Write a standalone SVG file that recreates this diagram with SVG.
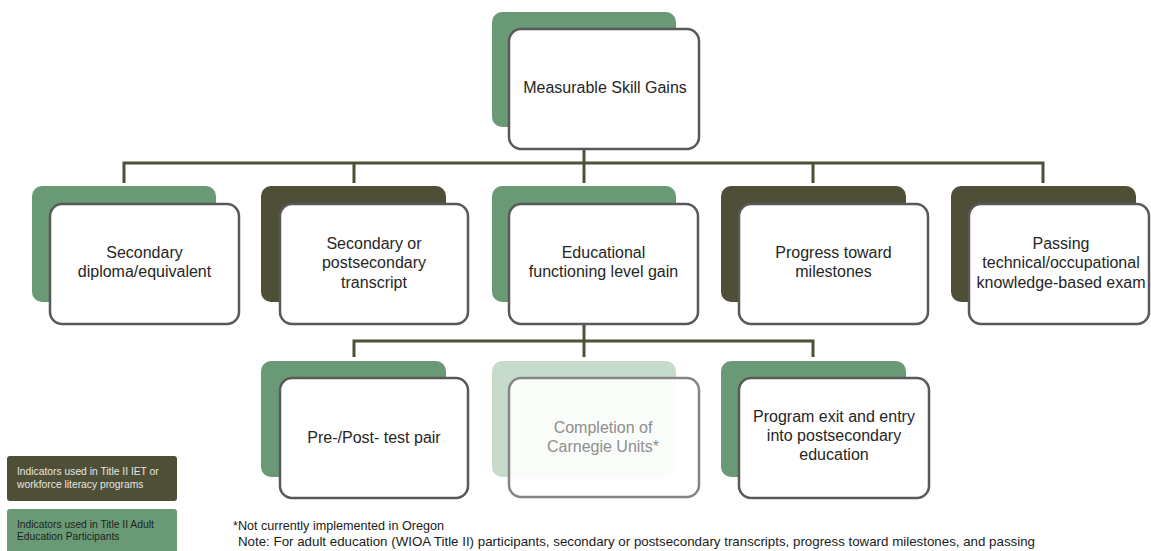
<svg xmlns="http://www.w3.org/2000/svg" width="1151" height="551" viewBox="0 0 1151 551">
<style>
.bg{fill:#fff}
.g{fill:#6a9a75}
.d{fill:#4f4f37}
.w{fill:#fff;stroke:#595959;stroke-width:2.5}
.t{font-family:"Liberation Sans",Arial,sans-serif;font-size:16px;fill:#262626;text-anchor:middle}
.c{fill:none;stroke:#4f5137;stroke-width:3}
.lg{font-family:"Liberation Sans",Arial,sans-serif;font-size:10.3px}
.ft{font-family:"Liberation Sans",Arial,sans-serif;font-size:13.5px;fill:#1a1a1a}
</style>
<rect class="bg" x="0" y="0" width="1151" height="551"/>
<g id="connectors">
<path class="c" d="M584 149 V183"/>
<path class="c" d="M124 183 V163 H1043 V183"/>
<path class="c" d="M354 163 V183 M813 163 V183"/>
<path class="c" d="M584 324 V357 M354 357 V341 H813 V357"/>
</g>
<g id="n-msg">
<rect class="g" x="492" y="12" width="184" height="115" rx="10"/>
<rect class="w" x="509" y="29" width="190" height="120" rx="12"/>
<text class="t" x="605" y="93">Measurable  Skill Gains</text>
</g>
<g id="n-diploma">
<rect class="g" x="32" y="186" width="184" height="116" rx="10"/>
<rect class="w" x="50" y="204" width="189" height="120" rx="12"/>
<text class="t" x="144.5" y="258">Secondary</text>
<text class="t" x="144.5" y="277">diploma/equivalent</text>
</g>
<g id="n-transcript">
<rect class="d" x="261" y="186" width="185" height="116" rx="10"/>
<rect class="w" x="280" y="204" width="188" height="120" rx="12"/>
<text class="t" x="374" y="249">Secondary  or</text>
<text class="t" x="374" y="268">postsecondary</text>
<text class="t" x="374" y="288">transcript</text>
</g>
<g id="n-efl">
<rect class="g" x="492" y="186" width="184" height="116" rx="10"/>
<rect class="w" x="509" y="204" width="189" height="120" rx="12"/>
<text class="t" x="603.5" y="258">Educational</text>
<text class="t" x="603.5" y="277">functioning level gain</text>
</g>
<g id="n-milestones">
<rect class="d" x="721" y="186" width="185" height="116" rx="10"/>
<rect class="w" x="739" y="204" width="189" height="120" rx="12"/>
<text class="t" x="833.5" y="258">Progress toward</text>
<text class="t" x="833.5" y="277">milestones</text>
</g>
<g id="n-exam">
<rect class="d" x="951" y="186" width="185" height="116" rx="10"/>
<rect class="w" x="969" y="204" width="180" height="120" rx="12"/>
<text class="t" x="1061" y="249">Passing</text>
<text class="t" x="1061" y="268">technical/occupational</text>
<text class="t" x="1061" y="288">knowledge-based  exam</text>
</g>
<g id="n-prepost">
<rect class="g" x="261" y="361" width="185" height="116" rx="10"/>
<rect class="w" x="280" y="378" width="188" height="120" rx="12"/>
<text class="t" x="374" y="443">Pre-/Post- test pair</text>
</g>
<g id="n-carnegie">
<rect x="492" y="361" width="184" height="116" rx="10" fill="#c7dbcc"/>
<rect x="509" y="378" width="190" height="119" rx="12" fill="#fff" fill-opacity="0.9" stroke="#858585" stroke-width="2.5"/>
<text class="t" x="603" y="433" style="fill:#8e8e8e">Completion of</text>
<text class="t" x="603" y="452" style="fill:#8e8e8e">Carnegie  Units*</text>
</g>
<g id="n-exit">
<rect class="g" x="721" y="361" width="185" height="116" rx="10"/>
<rect class="w" x="739" y="378" width="190" height="120" rx="12"/>
<text class="t" x="834" y="422">Program exit and entry</text>
<text class="t" x="834" y="441">into postsecondary</text>
<text class="t" x="834" y="460">education</text>
</g>
<g id="legend-iet">
<rect class="d" x="7" y="456" width="170" height="45" rx="3"/>
<text class="lg" x="17" y="475" fill="#e6e6e0">Indicators used in Title II IET or</text>
<text class="lg" x="17" y="488" fill="#e6e6e0">workforce literacy programs</text>
</g>
<g id="legend-adult">
<rect class="g" x="7" y="509" width="170" height="48" rx="3"/>
<text class="lg" x="17" y="528" fill="#1f1f1f">Indicators used in Title II Adult</text>
<text class="lg" x="17" y="540" fill="#1f1f1f">Education Participants</text>
</g>
<g id="notes">
<text class="ft" x="233" y="530" textLength="211" lengthAdjust="spacingAndGlyphs">*Not currently implemented in Oregon</text>
<text class="ft" x="238" y="546" textLength="797" lengthAdjust="spacingAndGlyphs">Note: For adult education (WIOA Title II) participants, secondary or postsecondary transcripts, progress toward milestones, and passing</text>
</g>
</svg>
